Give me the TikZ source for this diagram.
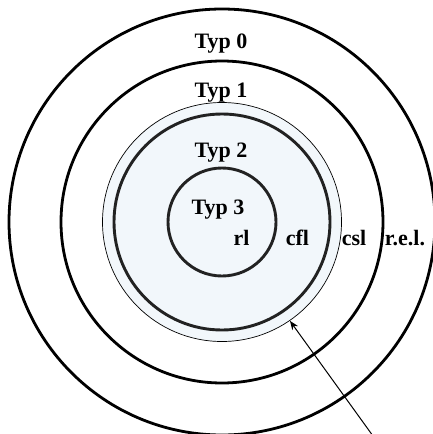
\documentclass[tikz,border=0pt]{standalone}
\usepackage{fontspec}
\setmainfont{Liberation Serif}
\usetikzlibrary{calc,arrows.meta}
\definecolor{lightfill}{HTML}{F2F7FB}
\definecolor{darkring}{HTML}{222222}
\begin{document}
\begin{tikzpicture}[x=1pt,y=-1pt,
  ring/.style={draw=black,line width=2.8pt},
  innerring/.style={draw=darkring,line width=2.9pt},
  lbl/.style={font=\fontsize{22}{24}\selectfont\bfseries,inner sep=0pt,anchor=base},
  pointer/.style={draw=black,line width=1pt,-{Stealth[length=9pt,width=7pt]}}]
\useasboundingbox (0,0) rectangle (432,434);
\coordinate (c) at (222,222);
\path[ring] (c) circle[radius=213];
\path[ring] (c) circle[radius=161];
\path[draw=black,line width=0.7pt,fill=lightfill] (c) circle[radius=119.5];
\path[innerring] (c) circle[radius=108];
\path[innerring] (c) circle[radius=54];
\node[lbl] (t0) at (221,48) {Typ 0};
\node[lbl] (t1) at (221,97) {Typ 1};
\node[lbl] (t2) at (221,157) {Typ 2};
\node[lbl] (t3) at (218,214) {Typ 3};
\node[lbl] (rl) at (241.5,245) {rl};
\node[lbl] (cfl) at (297.5,245) {cfl};
\node[lbl] (csl) at (354,245) {csl};
\node[lbl] (rel) at (405,245) {r.e.l.};
\coordinate (tip) at ($(c)+(55.5:120)$);
\coordinate (start) at (373,436);
\draw[pointer] (start) -- (tip);
\end{tikzpicture}
\end{document}
